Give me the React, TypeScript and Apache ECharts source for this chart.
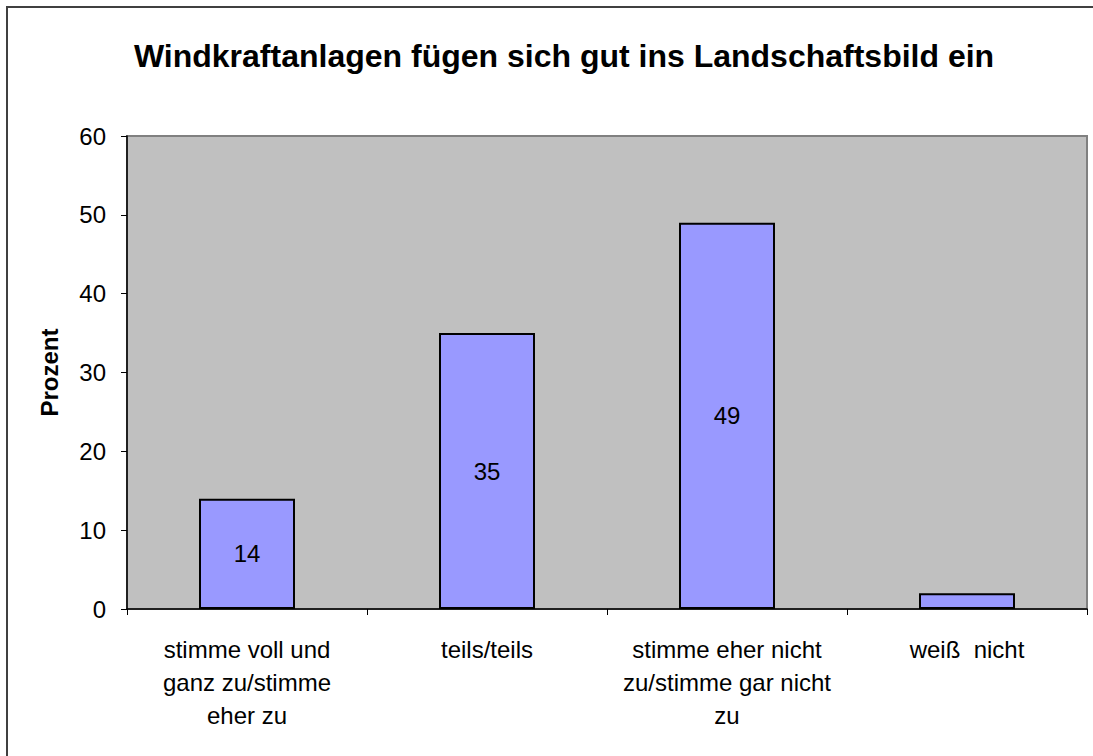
import React, { useEffect, useRef } from "react";
import * as echarts from "echarts";

const categories = [
  "stimme voll und\nganz zu/stimme\neher zu",
  "teils/teils",
  "stimme eher nicht\nzu/stimme gar nicht\nzu",
  "weiß  nicht",
];
const values = [14, 35, 49, 2];
const showLabel = [true, true, true, false];
const yTicks = { min: 0, max: 60, interval: 10 };
const titleText = "Windkraftanlagen fügen sich gut ins Landschaftsbild ein";
const yName = "Prozent";

export default function App() {
  const ref = useRef<HTMLDivElement>(null);
  useEffect(() => {
    const chart = echarts.init(ref.current!, null, { renderer: "svg" });
    const font = "'Liberation Sans', Arial, sans-serif";
    chart.setOption({
      animation: false,
      backgroundColor: "#ffffff",
      title: {
        text: titleText,
        left: 559,
        textAlign: "center",
        top: 35,
        textStyle: { fontFamily: font, fontSize: 32, fontWeight: "bold", color: "#000" },
      },
      graphic: [
        {
          type: "rect",
          shape: { x: 7, y: 7, width: 1100, height: 770 },
          style: { fill: "none", stroke: "#404040", lineWidth: 2 },
          silent: true,
          z: 100,
        },
      ],
      grid: {
        left: 127,
        top: 136,
        right: 6,
        bottom: 147,
        show: true,
        backgroundColor: "#C0C0C0",
        borderColor: "#808080",
        borderWidth: 2,
      },
      xAxis: {
        type: "category",
        data: categories,
        axisLine: { show: true, lineStyle: { color: "#000", width: 1.5 } },
        axisTick: { show: true, length: 6, alignWithLabel: false, lineStyle: { color: "#000" } },
        axisLabel: {
          fontFamily: font,
          fontSize: 24,
          color: "#000",
          lineHeight: 33,
          margin: 24,
          interval: 0,
        },
      },
      yAxis: {
        type: "value",
        min: yTicks.min,
        max: yTicks.max,
        interval: yTicks.interval,
        name: yName,
        nameLocation: "middle",
        nameGap: 66,
        nameTextStyle: { fontFamily: font, fontSize: 24, fontWeight: "bold", color: "#000" },
        splitLine: { show: false },
        axisLine: { show: true, lineStyle: { color: "#000", width: 1.5 } },
        axisTick: { show: true, length: 6, lineStyle: { color: "#000" } },
        axisLabel: { fontFamily: font, fontSize: 24, color: "#000", margin: 21 },
      },
      series: [
        {
          type: "bar",
          barWidth: "40%",
          data: values.map((v, i) => ({
            value: v,
            label: { show: showLabel[i] },
          })),
          itemStyle: { color: "#9999FF", borderColor: "#000", borderWidth: 2 },
          label: {
            position: "inside",
            fontFamily: font,
            fontSize: 24,
            color: "#000",
          },
        },
      ],
    });
    return () => chart.dispose();
  }, []);
  return (
    <div
      ref={ref}
      style={{ position: "absolute", left: 0, top: 0, width: 1093, height: 756 }}
    />
  );
}
